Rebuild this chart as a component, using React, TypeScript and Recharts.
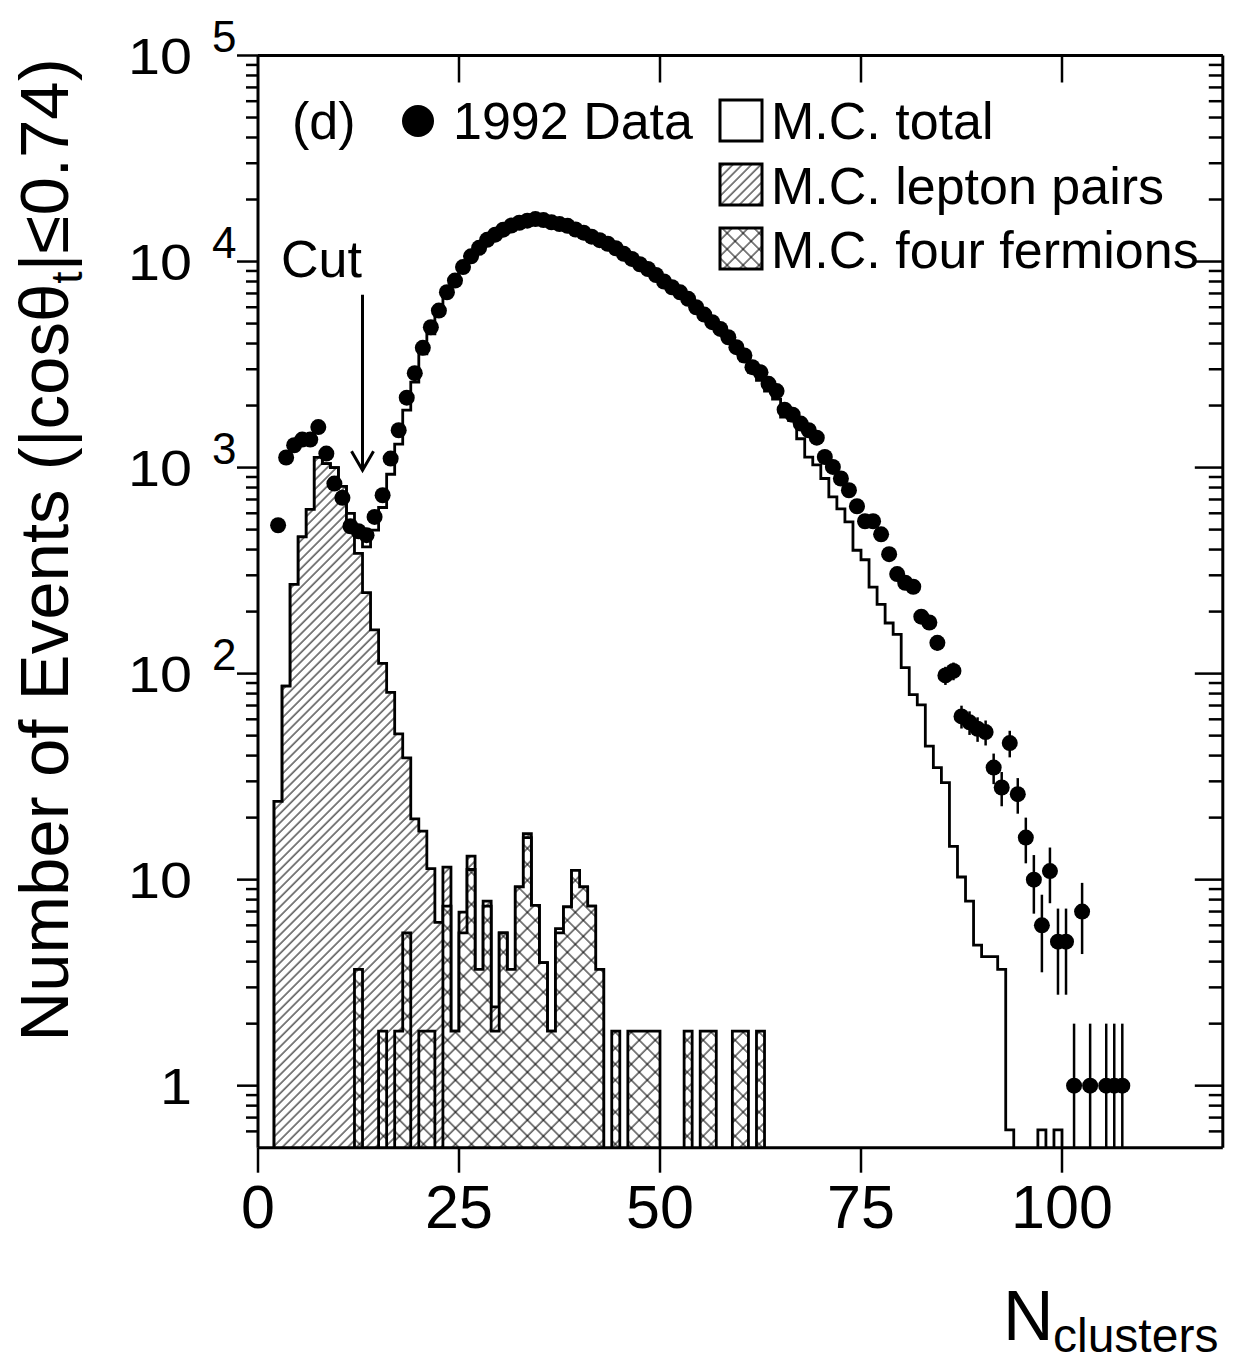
import React from 'react'
import {
  ComposedChart,
  Area,
  Scatter,
  ErrorBar,
  XAxis,
  YAxis,
  ReferenceLine,
} from 'recharts'

// each histogram bin n covers [n, n+1) clusters
const X_MAX = 120
const Y_MIN = 0.5
const Y_MAX = 100000
const FLOOR = 1e-3 // empty bins sit below the log axis and get clipped

const dataFirstBin = 2
const dataCounts = [
  525, 1119, 1283, 1367, 1367, 1573, 1169, 836, 713, 519,
  491, 470, 576, 734, 1106, 1517, 2183, 2872, 3812, 4797,
  5780, 7095, 8080, 9400, 10600, 11650, 12740, 13500, 14280, 14940,
  15430, 15790, 16080, 15900, 15500, 15200, 14900, 14300, 13800, 13200,
  12700, 12200, 11600, 10900, 10300, 9700, 9200, 8600, 8000, 7500,
  7090, 6590, 6000, 5530, 5080, 4710, 4290, 3840, 3500, 3070,
  2900, 2550, 2350, 1910, 1805, 1635, 1517, 1397, 1125, 1007,
  885, 776, 649, 549, 549, 474, 380, 304, 276, 264,
  189, 177, 141, 98, 103, 62, 58, 54, 52, 35,
  28, 46, 26, 16, 10, 6, 11, 5, 5, 1,
  7, 1, 0, 1, 1, 1,
]

const mcTotalFirstBin = 2
const mcTotal = [
  24, 87, 271, 461, 627, 1120, 1045, 1000, 811, 600,
  470, 412, 497, 640, 928, 1300, 1900, 2600, 3565, 4460,
  6000, 7000, 8100, 9300, 10500, 11600, 12700, 13500, 14300, 14900,
  15400, 15800, 16000, 15900, 15500, 15200, 14800, 14300, 13800, 13200,
  12700, 12200, 11600, 10900, 10300, 9700, 9200, 8600, 8000, 7500,
  7000, 6500, 6000, 5500, 5000, 4600, 4150, 3700, 3300, 2900,
  2650, 2350, 2150, 1760, 1690, 1380, 1125, 1030, 885, 720,
  630, 545, 397, 357, 263, 217, 176, 155, 107, 79,
  70.5, 44.5, 35, 29.6, 14.5, 10.3, 7.86, 4.81, 4.23, 4.23,
  3.67, 0.61, 0, 0, 0, 0.61, 0, 0.61,
]

const leptonFirstBin = 2
const leptonPairs = [
  24, 87, 271, 461, 627, 1120, 1045, 1000, 811, 508,
  383, 247, 163, 112, 81, 51, 39, 19.7, 17.2, 11.3,
  6.2, 11.5, 1.84, 6.95, 13.0, 3.67, 7.86, 2.41, 5.52, 3.67,
  9.23, 16.7, 7.5, 3.96, 1.84, 5.78, 7.38, 11.1, 9.23, 7.43,
  3.67,
]

const fourFermFirstBin = 12
const fourFermions = [
  3.67, 0, 0, 1.84, 0, 1.84, 5.52, 0, 1.84, 1.84,
  0, 7.43, 1.84, 5.52, 11.2, 3.67, 7.43, 1.84, 5.52, 3.67,
  9.23, 16.0, 7.5, 3.96, 1.84, 5.52, 7.38, 11.1, 9.23, 7.43,
  3.67, 0, 1.84, 0, 1.84, 1.84, 1.84, 1.84, 0, 0,
  0, 1.84, 0, 1.84, 1.84, 0, 0, 1.84, 1.84, 0,
  1.84,
]

const xTicks = [0, 25, 50, 75, 100]
const yMajorTicks = [1, 10, 100, 1000, 10000, 100000]
const yTickExponents = ['', '', '2', '3', '4', '5']
const cutPosition = 13
const cutArrowRange = [6900, 970]

const FONT = '"Liberation Sans", Arial, Helvetica, sans-serif'

// chart frame
const W = 1233
const H = 1361
const MARGIN = { top: 55.5, right: 10.2, bottom: 113.3, left: 158 }
const Y_AXIS_W = 100
const X_AXIS_H = 100
const PLOT_W = W - MARGIN.left - Y_AXIS_W - MARGIN.right
const PLOT_H = H - MARGIN.top - MARGIN.bottom - X_AXIS_H

const yMinorTicks = [0.1, 1, 10, 100, 1000, 10000]
  .flatMap((d) => [2, 3, 4, 5, 6, 7, 8, 9].map((k) => k * d))
  .filter((v) => v > Y_MIN && v < Y_MAX)
const yTicks = [...yMinorTicks, ...yMajorTicks].sort((a, b) => a - b)

function histogram(first: number, values: number[]) {
  const rows: { x: number; v: number }[] = []
  for (let n = 0; n <= X_MAX; n++) {
    const v = values[n - first]
    rows.push({ x: n, v: v > 0 ? v : FLOOR })
  }
  return rows
}

const totalRows = histogram(mcTotalFirstBin, mcTotal)
const leptonRows = histogram(leptonFirstBin, leptonPairs)
const fourFermRows = histogram(fourFermFirstBin, fourFermions)

// poisson errors, lower end stopped at the bottom of the axis
const dataPoints = dataCounts
  .map((c, i) => {
    const e = Math.sqrt(c)
    return { x: dataFirstBin + i + 0.5, y: c, err: [Math.min(e, c - Y_MIN), e] }
  })
  .filter((p) => p.y > 0)

const LeftTick = (props: any) => {
  const { x, y, payload } = props
  const idx = yMajorTicks.indexOf(payload.value)
  const major = idx >= 0
  const xr = x + PLOT_W
  return (
    <g>
      <line x1={x - (major ? 21 : 12)} x2={x} y1={y} y2={y} stroke="#000" strokeWidth={2.5} />
      <line x1={xr - (major ? 28 : 14)} x2={xr} y1={y} y2={y} stroke="#000" strokeWidth={2.5} />
      {major && (
        <text
          transform={`translate(${x - 66},${y + 18}) scale(1.15,1)`}
          textAnchor="end"
          fontSize={50}
          fontFamily={FONT}
          fill="#000"
        >
          {idx === 0 ? '1' : '10'}
        </text>
      )}
      {major && yTickExponents[idx] && (
        <text x={x - 46} y={y - 4} fontSize={44} fontFamily={FONT} fill="#000">
          {yTickExponents[idx]}
        </text>
      )}
    </g>
  )
}

const BottomTick = (props: any) => {
  const { x, y, payload } = props
  const yt = y - PLOT_H
  return (
    <g>
      <line x1={x} x2={x} y1={y} y2={y + 25} stroke="#000" strokeWidth={2.5} />
      {payload.value > 0 && <line x1={x} x2={x} y1={yt} y2={yt + 27} stroke="#000" strokeWidth={2.5} />}
      <text x={x} y={y + 80} textAnchor="middle" fontSize={61} fontFamily={FONT} fill="#000">
        {payload.value}
      </text>
    </g>
  )
}

const CutArrow = (p: any) => {
  const { x1, y1, y2 } = p
  const top = Math.min(y1, y2)
  const tip = Math.max(y1, y2)
  return (
    <g>
      <line x1={x1} x2={x1} y1={top} y2={tip} stroke="#000" strokeWidth={3} />
      <polyline
        points={`${x1 - 11},${tip - 19} ${x1},${tip} ${x1 + 11},${tip - 19}`}
        fill="none"
        stroke="#000"
        strokeWidth={3}
      />
    </g>
  )
}

const Dot = (p: any) => <circle cx={p.cx} cy={p.cy} r={8} fill="#000" />

function Patterns({ prefix }: { prefix: string }) {
  return (
    <defs>
      <pattern id={`${prefix}hatch`} patternUnits="userSpaceOnUse" width={6.6} height={6.6} patternTransform="rotate(45)">
        <rect width={6.6} height={6.6} fill="#fff" />
        <line x1={1} y1={0} x2={1} y2={6.6} stroke="#000" strokeWidth={1} />
      </pattern>
      <pattern id={`${prefix}xhatch`} patternUnits="userSpaceOnUse" width={11.3} height={11.3} patternTransform="rotate(45)">
        <rect width={11.3} height={11.3} fill="#fff" />
        <line x1={1} y1={0} x2={1} y2={11.3} stroke="#000" strokeWidth={1} />
        <line x1={0} y1={1} x2={11.3} y2={1} stroke="#000" strokeWidth={1} />
      </pattern>
    </defs>
  )
}

function Overlay() {
  const t = { fontFamily: FONT, fill: '#000' }
  return (
    <svg width={W} height={H} style={{ position: 'absolute', left: 0, top: 0, pointerEvents: 'none' }}>
      <Patterns prefix="lg-" />
      <text x={292} y={139} fontSize={52} {...t}>(d)</text>
      <circle cx={418} cy={121} r={16} fill="#000" />
      <text x={453} y={139} fontSize={52} {...t}>1992 Data</text>

      <rect x={720} y={100} width={42} height={41} fill="#fff" stroke="#000" strokeWidth={3} />
      <text x={771} y={139} fontSize={52} {...t}>M.C. total</text>
      <rect x={720} y={164} width={42} height={41} fill="url(#lg-hatch)" stroke="#000" strokeWidth={3} />
      <text x={771} y={204} fontSize={52} {...t}>M.C. lepton pairs</text>
      <rect x={720} y={228} width={42} height={41} fill="url(#lg-xhatch)" stroke="#000" strokeWidth={3} />
      <text x={771} y={268} fontSize={52} {...t}>M.C. four fermions</text>

      <text x={281} y={277} fontSize={52} {...t}>Cut</text>

      <text transform="translate(68,550) rotate(-90)" textAnchor="middle" fontSize={69} {...t}>
        Number of Events (|cosθ
        <tspan fontSize={44} dy={14}>t</tspan>
        <tspan dy={-14}>|≤0.74)</tspan>
      </text>

      <text x={1003} y={1340} fontSize={70} {...t}>N</text>
      <text x={1053} y={1352} fontSize={48} {...t}>clusters</text>
    </svg>
  )
}

export default function App() {
  return (
    <div style={{ position: 'absolute', left: 0, top: 0, width: W, height: H, background: '#fff' }}>
      <ComposedChart width={W} height={H} margin={MARGIN}>
        <Patterns prefix="" />
        <XAxis
          dataKey="x"
          type="number"
          domain={[0, X_MAX]}
          ticks={xTicks}
          interval={0}
          allowDataOverflow
          height={X_AXIS_H}
          tickSize={0}
          tickMargin={0}
          tickLine={false}
          axisLine={{ stroke: '#000', strokeWidth: 3 }}
          tick={BottomTick}
        />
        <YAxis
          type="number"
          scale="log"
          domain={[Y_MIN, Y_MAX]}
          ticks={yTicks}
          interval={0}
          allowDataOverflow
          width={Y_AXIS_W}
          tickSize={0}
          tickMargin={0}
          tickLine={false}
          axisLine={{ stroke: '#000', strokeWidth: 3 }}
          tick={LeftTick}
        />
        <Area
          data={totalRows}
          dataKey="v"
          type="stepAfter"
          stroke="#000"
          strokeWidth={2.8}
          fill="none"
          dot={false}
          activeDot={false}
          isAnimationActive={false}
        />
        <Area
          data={leptonRows}
          dataKey="v"
          type="stepAfter"
          stroke="#000"
          strokeWidth={2.8}
          fill="url(#hatch)"
          fillOpacity={1}
          dot={false}
          activeDot={false}
          isAnimationActive={false}
        />
        <Area
          data={fourFermRows}
          dataKey="v"
          type="stepAfter"
          stroke="#000"
          strokeWidth={2.8}
          fill="url(#xhatch)"
          fillOpacity={1}
          dot={false}
          activeDot={false}
          isAnimationActive={false}
        />
        <ReferenceLine y={Y_MAX} stroke="#000" strokeWidth={3} ifOverflow="visible" />
        <ReferenceLine x={X_MAX} stroke="#000" strokeWidth={3} ifOverflow="visible" />
        <ReferenceLine
          segment={[
            { x: cutPosition, y: cutArrowRange[0] },
            { x: cutPosition, y: cutArrowRange[1] },
          ]}
          ifOverflow="visible"
          shape={CutArrow}
        />
        <Scatter data={dataPoints} dataKey="y" shape={Dot} isAnimationActive={false}>
          <ErrorBar dataKey="err" direction="y" width={0} stroke="#000" strokeWidth={2.5} isAnimationActive={false} />
        </Scatter>
      </ComposedChart>
      <Overlay />
    </div>
  )
}
